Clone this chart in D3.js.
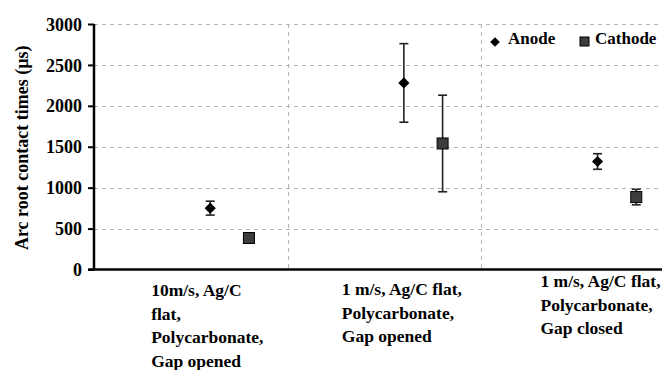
<!DOCTYPE html>
<html>
<head>
<meta charset="utf-8">
<script src="https://cdn.jsdelivr.net/npm/d3@7"></script>
<style>
  html, body { margin: 0; padding: 0; background: #fff; overflow: hidden; }
</style>
</head>
<body>
<svg id="chart" width="662" height="370" font-family="Liberation Serif" font-weight="bold"></svg>
<script>
// Test conditions (one column each), split into the printed label lines
const categories = [
  ["10m/s, Ag/C", "flat,", "Polycarbonate,", "Gap opened"],
  ["1 m/s, Ag/C flat,", "Polycarbonate,", "Gap opened"],
  ["1 m/s, Ag/C flat,", "Polycarbonate,", "Gap closed"]
];
// Mean arc root contact times (µs) and their error half-widths
const anodeValues   = [750, 2280, 1320];
const anodeErrors   = [85, 480, 95];
const cathodeValues = [385, 1540, 885];
const cathodeErrors = [30, 590, 95];
const yTicks = [0, 500, 1000, 1500, 2000, 2500, 3000];
const seriesNames = ["Anode", "Cathode"];

const FONT = "Liberation Serif";
const svg = d3.select("#chart");
const margin = { left: 94, top: 24 };
const plotRight = 675;
const plotBottom = 269.5;

// Columns are laid out on a continuous scale: column i spans [i, i+1]
const x = d3.scaleLinear().domain([0, categories.length]).range([margin.left, plotRight]);
const y = d3.scaleLinear().domain([0, 3000]).range([plotBottom, margin.top]);
const anodeOffset = 0.6, cathodeOffset = 0.8, labelOffset = 0.295;

function label(sel, size) {
  return sel.attr("font-family", FONT).attr("font-weight", "bold").attr("font-size", size).attr("fill", "#000");
}

// Dashed gridlines
const grid = svg.append("g").attr("stroke", "#b4b4b4").attr("stroke-width", 1).attr("stroke-dasharray", "4,4");
grid.selectAll("line.h").data(yTicks.filter(d => d > 0)).join("line")
  .attr("x1", margin.left).attr("x2", plotRight)
  .attr("y1", d => Math.round(y(d)) + 0.5).attr("y2", d => Math.round(y(d)) + 0.5);
grid.selectAll("line.v").data(d3.range(1, categories.length)).join("line")
  .attr("x1", d => Math.round(x(d)) + 0.5).attr("x2", d => Math.round(x(d)) + 0.5)
  .attr("y1", margin.top).attr("y2", plotBottom);

// Legend panel (sits over the grid)
const legend = svg.append("g");
legend.append("rect").attr("x", 482).attr("y", 27).attr("width", 180).attr("height", 28).attr("fill", "#fff");
legend.append("path").attr("d", d3.symbol(d3.symbolDiamond2, 60)())
  .attr("transform", "translate(495,42)").attr("fill", "#000");
label(legend.append("text"), 17).attr("x", 508).attr("y", 43.5).text(seriesNames[0]);
legend.append("rect").attr("x", 580).attr("y", 37).attr("width", 9).attr("height", 9)
  .attr("fill", "#3c3c3c").attr("stroke", "#000").attr("stroke-width", 1);
label(legend.append("text"), 17).attr("x", 595).attr("y", 43.5).text(seriesNames[1]);

// Y axis
const yAxis = svg.append("g").attr("transform", `translate(${margin.left},0)`)
  .call(d3.axisLeft(y).tickValues(yTicks).tickSize(6).tickPadding(6).tickFormat(d3.format("d")));
yAxis.attr("font-family", FONT).attr("font-size", 18);
yAxis.select(".domain").attr("stroke", "#000").attr("stroke-width", 2.5)
  .attr("d", `M0,${margin.top}V${plotBottom}`);
yAxis.selectAll(".tick line").attr("stroke", "#000").attr("stroke-width", 2);
label(yAxis.selectAll(".tick text"), 18).attr("dy", "0.34em");

// X axis baseline
svg.append("line").attr("x1", margin.left - 6).attr("x2", 662)
  .attr("y1", plotBottom).attr("y2", plotBottom).attr("stroke", "#000").attr("stroke-width", 2.5);

// Y title
label(svg.append("text"), 18)
  .attr("transform", `translate(28,${(margin.top + plotBottom) / 2 + 1}) rotate(-90)`)
  .attr("text-anchor", "middle").text("Arc root contact times (µs)");

// Category labels
const firstBaselines = [296, 295, 287];
const labelShift = [0, -3, 2];
categories.forEach((lines, i) => {
  const t = label(svg.append("text"), 17.5);
  lines.forEach((ln, j) => {
    t.append("tspan").attr("x", x(i + labelOffset) + labelShift[i])
      .attr("y", firstBaselines[i] + j * 23.7).text(ln);
  });
});

// Error bars
function errorBars(vals, errs, off) {
  const g = svg.append("g").attr("stroke", "#222").attr("stroke-width", 1.6);
  vals.forEach((v, i) => {
    const cx = x(i + off);
    g.append("line").attr("x1", cx).attr("x2", cx).attr("y1", y(v + errs[i])).attr("y2", y(v - errs[i]));
    [v + errs[i], v - errs[i]].forEach(e => {
      g.append("line").attr("x1", cx - 4.5).attr("x2", cx + 4.5).attr("y1", y(e)).attr("y2", y(e));
    });
  });
}
errorBars(anodeValues, anodeErrors, anodeOffset);
errorBars(cathodeValues, cathodeErrors, cathodeOffset);

// Anode markers (diamonds)
svg.append("g").selectAll("path").data(anodeValues).join("path")
  .attr("d", d3.symbol(d3.symbolDiamond2, 80)())
  .attr("transform", (d, i) => `translate(${x(i + anodeOffset)},${y(d)})`)
  .attr("fill", "#000");

// Cathode markers (squares)
svg.append("g").selectAll("rect").data(cathodeValues).join("rect")
  .attr("x", (d, i) => x(i + cathodeOffset) - 5.5).attr("y", d => y(d) - 5.5)
  .attr("width", 11).attr("height", 11)
  .attr("fill", "#3c3c3c").attr("stroke", "#000").attr("stroke-width", 1);
</script>
</body>
</html>
